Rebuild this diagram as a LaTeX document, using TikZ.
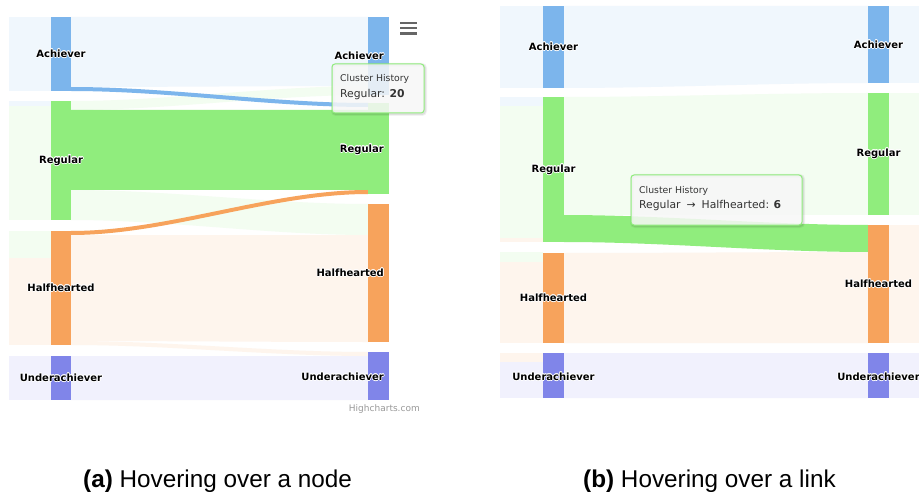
\documentclass[tikz,border=0pt]{standalone}
\usepackage{fontspec}
\setmainfont{DejaVu Sans}
\newfontfamily\capfont{Liberation Sans}
\usepackage{contour}
\contourlength{0.6pt}
\contournumber{16}

\definecolor{hcblue}{HTML}{7CB5EC}
\definecolor{hcgreen}{HTML}{90ED7D}
\definecolor{hcorange}{HTML}{F7A35C}
\definecolor{hcpurple}{HTML}{8085E9}
\colorlet{paleblue}{hcblue!11!white}
\colorlet{palegreen}{hcgreen!11!white}
\colorlet{paleorange}{hcorange!11!white}
\colorlet{palepurple}{hcpurple!11!white}
\definecolor{tipbg}{HTML}{F7F7F7}
\definecolor{tiptext}{HTML}{333333}
\definecolor{menugray}{HTML}{666666}
\definecolor{credit}{HTML}{999999}

% sankey band: colour, x1, top1, bottom1, x2, top2, bottom2
\newcommand\flow[7]{%
  \fill[#1] (#2,#3) .. controls ({#2+0.33*(#5-#2)},#3) and ({#5-0.33*(#5-#2)},#6) .. (#5,#6)
    -- (#5,#7) .. controls ({#5-0.33*(#5-#2)},#7) and ({#2+0.33*(#5-#2)},#4) .. (#2,#4) -- cycle;}

% tooltip frame: x1, y1, x2, y2
\newcommand\tipframe[4]{%
  \draw[black, opacity=0.05, line width=4pt, rounded corners=3pt] ({#1+1},{#2+1}) rectangle ({#3+1},{#4+1});
  \draw[black, opacity=0.08, line width=2pt, rounded corners=3pt] ({#1+1},{#2+1}) rectangle ({#3+1},{#4+1});
  \filldraw[draw=hcgreen, fill=tipbg, fill opacity=0.85, line width=1pt, rounded corners=3pt] (#1,#2) rectangle (#3,#4);}

\tikzset{
  lbl/.style={font=\fontsize{10}{12}\selectfont\bfseries, text=black, inner sep=0pt},
  tiphead/.style={font=\fontsize{9.3}{11}\selectfont, text=tiptext, inner sep=0pt},
  tipbody/.style={font=\fontsize{10.8}{13}\selectfont, text=tiptext, inner sep=0pt},
  capstyle/.style={font=\capfont\fontsize{24.3}{29}\selectfont, text=black, inner sep=0pt},
  menubar/.style={menugray, line width=2.4pt},
}

\begin{document}
\begin{tikzpicture}[x=1pt,y=-1pt]
\useasboundingbox (0,0) rectangle (919,492);
\fill[white] (0,0) rectangle (919,492);

% ================= (a) hovering over a node =================
% bands entering the first visible column
\fill[paleblue] (9,17) rectangle (51,91);
\fill[paleblue] (9,101) rectangle (51,106);
\fill[palegreen] (9,106) rectangle (51,220);
\fill[palegreen] (9,231) rectangle (51,258);
\fill[paleorange] (9,258) rectangle (51,345);
\fill[palepurple] (9,356) rectangle (51,400);

% inactive links
\flow{paleblue}{71}{17}{87}{368}{17}{86}
\flow{palegreen}{71}{101}{110}{368}{86}{95}
\flow{palegreen}{71}{190}{220}{368}{204}{235}
\flow{paleorange}{71}{235}{341}{368}{235}{342}
\flow{paleorange}{71}{341}{345}{368}{352}{356}
\flow{palepurple}{71}{356}{400}{368}{356}{400}

% links of the hovered node
\flow{hcblue}{71}{87}{91}{368}{103}{107}
\flow{hcgreen}{71}{110}{190}{368}{110}{190}
\flow{hcorange}{71}{231}{235}{368}{190}{194}

% node bars
\fill[hcblue]   (51,17)  rectangle (71,91);
\fill[hcgreen]  (51,101) rectangle (71,220);
\fill[hcorange] (51,231) rectangle (71,345);
\fill[hcpurple] (51,356) rectangle (71,400);
\fill[hcblue]   (368,17)  rectangle (389,95);
\fill[hcgreen]  (368,103) rectangle (389,194);
\fill[hcorange] (368,204) rectangle (389,342);
\fill[hcpurple] (368,352) rectangle (389,400);

% node labels
\node[lbl] (aAch1) at (61,54)  {\contour{white}{Achiever}};
\node[lbl] (aReg1) at (61,161) {\contour{white}{Regular}};
\node[lbl] (aHal1) at (61,288) {\contour{white}{Halfhearted}};
\node[lbl] (aUnd1) at (61,378) {\contour{white}{Underachiever}};
\node[lbl, anchor=east] (aAch2) at (384,56)  {\contour{white}{Achiever}};
\node[lbl, anchor=east] (aReg2) at (384,150) {\contour{white}{Regular}};
\node[lbl, anchor=east] (aHal2) at (384,273) {\contour{white}{Halfhearted}};
\node[lbl, anchor=east] (aUnd2) at (384,377) {\contour{white}{Underachiever}};

% context menu button
\draw[menubar] (400,23) -- (417,23);
\draw[menubar] (400,28.3) -- (417,28.3);
\draw[menubar] (400,33.6) -- (417,33.6);

% tooltip
\tipframe{332}{64}{424}{113}
\node[tiphead, anchor=base west] (aTipHead) at (340,81.5) {Cluster History};
\node[tipbody, anchor=base west] (aTipBody) at (340,97.5) {Regular: \textbf{20}};

% credit
\node[font=\fontsize{9}{11}\selectfont, text=credit, inner sep=0pt, anchor=base east] (credit) at (420,411) {Highcharts.com};

% ================= (b) hovering over a link =================
% bands entering the first visible column
\fill[paleblue] (500,6) rectangle (543,88);
\fill[paleblue] (500,97) rectangle (543,106);
\fill[palegreen] (500,106) rectangle (543,238);
\fill[paleorange] (500,238) rectangle (543,242);
\fill[palegreen] (500,252) rectangle (543,262);
\fill[paleorange] (500,262) rectangle (543,343);
\fill[paleorange] (500,353) rectangle (543,362);
\fill[palepurple] (500,362) rectangle (543,398);

% inactive links
\flow{paleblue}{564}{6}{88}{868}{6}{83}
\flow{palegreen}{564}{97}{215}{868}{93}{215}
\flow{paleorange}{564}{253}{343}{868}{252}{343}
\flow{palepurple}{564}{353}{398}{868}{353}{398}

% bands leaving the last visible column
\fill[paleblue] (889,6) rectangle (919,83);
\fill[palegreen] (889,93) rectangle (919,215);
\fill[paleorange] (889,225) rectangle (919,343);
\fill[palepurple] (889,353) rectangle (919,398);

% hovered link
\flow{hcgreen}{564}{215}{242}{868}{225}{252}

% node bars
\fill[hcblue]   (543,6)   rectangle (564,88);
\fill[hcgreen]  (543,97)  rectangle (564,242);
\fill[hcorange] (543,253) rectangle (564,343);
\fill[hcpurple] (543,353) rectangle (564,398);
\fill[hcblue]   (868,6)   rectangle (889,83);
\fill[hcgreen]  (868,93)  rectangle (889,215);
\fill[hcorange] (868,225) rectangle (889,343);
\fill[hcpurple] (868,353) rectangle (889,398);

% node labels
\node[lbl] (bAch1) at (553.5,47)  {\contour{white}{Achiever}};
\node[lbl] (bReg1) at (553.5,170) {\contour{white}{Regular}};
\node[lbl] (bHal1) at (553.5,298) {\contour{white}{Halfhearted}};
\node[lbl] (bUnd1) at (553.5,377) {\contour{white}{Underachiever}};
\node[lbl] (bAch2) at (878.5,45)  {\contour{white}{Achiever}};
\node[lbl] (bReg2) at (878.5,154) {\contour{white}{Regular}};
\node[lbl] (bHal2) at (878.5,284) {\contour{white}{Halfhearted}};
\node[lbl] (bUnd2) at (878.5,377) {\contour{white}{Underachiever}};

% tooltip
\tipframe{631}{175}{802}{225}
\node[tiphead, anchor=base west] (bTipHead) at (639,193.5) {Cluster History};
\node[tipbody, anchor=base west] (bTipBody) at (639,208.5) {Regular\hspace{6pt}→\hspace{6pt}Halfhearted: \textbf{6}};

% ================= captions =================
\node[capstyle, anchor=base west] (capA) at (83,487) {\textbf{(a)} Hovering over a node};
\node[capstyle, anchor=base west] (capB) at (583,487) {\textbf{(b)} Hovering over a link};
\end{tikzpicture}
\end{document}
